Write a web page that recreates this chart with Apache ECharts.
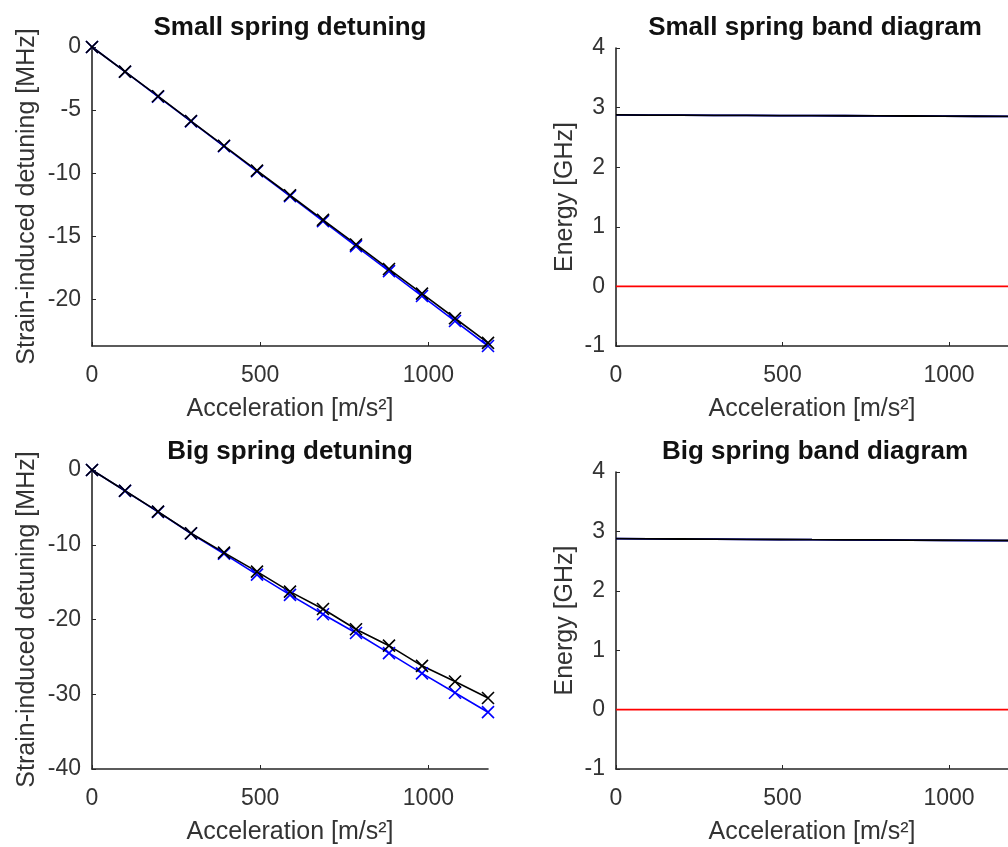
<!DOCTYPE html>
<html>
<head>
<meta charset="utf-8">
<script src="https://cdn.jsdelivr.net/npm/echarts@6/dist/echarts.min.js"></script>
<style>
html,body{margin:0;padding:0;background:#fff;overflow:hidden;}
#chart{width:1008px;height:847px;}
</style>
</head>
<body>
<div id="chart"></div>
<script>
// Data
const accel = [0, 98.1, 196.2, 294.3, 392.4, 490.5, 588.6, 686.7, 784.8, 882.9, 981, 1079.1, 1177.2];
const smallBlue  = [0, -1.96, -3.93, -5.9, -7.87, -9.85, -11.82, -13.8, -15.78, -17.76, -19.74, -21.72, -23.7];
const smallBlack = [0, -1.95, -3.9, -5.87, -7.83, -9.8, -11.75, -13.7, -15.65, -17.6, -19.55, -21.5, -23.45];
const bigBlue  = [0, -2.8, -5.6, -8.5, -11.2, -14.0, -16.7, -19.3, -21.8, -24.5, -27.2, -29.8, -32.4];
const bigBlack = [0, -2.77, -5.57, -8.46, -11.05, -13.6, -16.27, -18.6, -21.3, -23.5, -26.2, -28.3, -30.5];
const smallBandBlue  = [2.877, 2.875, 2.873, 2.871, 2.869, 2.867, 2.865, 2.863, 2.861, 2.859, 2.857, 2.855, 2.853];
const smallBandBlack = [2.877, 2.875, 2.873, 2.871, 2.869, 2.867, 2.865, 2.863, 2.861, 2.859, 2.857, 2.855, 2.853];
const smallBandRed   = [0, 0, 0, 0, 0, 0, 0, 0, 0, 0, 0, 0, 0];
const bigBandBlue  = [2.877, 2.874, 2.871, 2.869, 2.866, 2.863, 2.86, 2.858, 2.855, 2.852, 2.849, 2.847, 2.844];
const bigBandBlack = [2.877, 2.874, 2.872, 2.869, 2.866, 2.864, 2.861, 2.859, 2.856, 2.854, 2.851, 2.849, 2.847];
const bigBandRed   = [0, 0, 0, 0, 0, 0, 0, 0, 0, 0, 0, 0, 0];
const xTicks = [0, 500, 1000];
const smallDetTicks = [0, -5, -10, -15, -20];
const bigDetTicks = [0, -10, -20, -30, -40];
const energyTicks = [-1, 0, 1, 2, 3, 4];
const titles = ['Small spring detuning', 'Big spring detuning', 'Small spring band diagram', 'Big spring band diagram'];
const xName = 'Acceleration [m/s\u00B2]';
const detName = 'Strain-induced detuning [MHz]';
const energyName = 'Energy [GHz]';

const FONT = '"Liberation Sans", Arial, Helvetica, sans-serif';
const AX = '#262626';
const TXT = '#333333';
const TICKF = 23, NAMEF = 25, TITLEF = 26;

function pairs(xs, ys){ return xs.map((x,i)=>[x, ys[i]]); }

const grids = [
  {left: 92, top: 47, width: 396, height: 299},
  {left: 92, top: 470, width: 396, height: 299},
  {left: 616, top: 48, width: 399, height: 298},
  {left: 616, top: 472, width: 399, height: 297}
];

function xAxis(gi){
  return {
    type: 'value', gridIndex: gi, min: 0, max: accel[accel.length-1],
    name: xName, nameLocation: 'middle', nameGap: 51,
    nameTextStyle: {fontSize: NAMEF, color: TXT, fontFamily: FONT},
    axisLine: {show: true, onZero: false, lineStyle: {color: AX, width: 1.6}},
    axisTick: {show: true, inside: true, length: 4, customValues: xTicks, lineStyle: {color: AX}},
    axisLabel: {customValues: xTicks, fontSize: TICKF, color: TXT, fontFamily: FONT, margin: 18, formatter: v => String(v)},
    splitLine: {show: false}
  };
}
function yAxis(gi, min, max, ticks, name, gap){
  return {
    type: 'value', gridIndex: gi, min: min, max: max,
    name: name, nameLocation: 'middle', nameGap: gap,
    nameTextStyle: {fontSize: NAMEF, color: TXT, fontFamily: FONT},
    axisLine: {show: true, onZero: false, lineStyle: {color: AX, width: 1.6}},
    axisTick: {show: true, inside: true, length: 4, customValues: ticks, lineStyle: {color: AX}},
    axisLabel: {customValues: ticks, fontSize: TICKF, color: TXT, fontFamily: FONT, margin: 11, formatter: v => String(v)},
    splitLine: {show: false}
  };
}
const X = 'path://M0,0L10,10M10,0L0,10';
function markSeries(gi, ys, color){
  return {
    type: 'line', xAxisIndex: gi, yAxisIndex: gi, data: pairs(accel, ys),
    symbol: X, symbolSize: 12, showAllSymbol: true,
    lineStyle: {color: color, width: 1.6},
    itemStyle: {color: color, borderColor: color, borderWidth: 1.6},
    animation: false, silent: true
  };
}
function bandSeries(gi, ys, color){
  return {
    type: 'line', xAxisIndex: gi, yAxisIndex: gi, data: pairs(accel, ys),
    showSymbol: false, symbol: 'none',
    lineStyle: {color: color, width: 1.8},
    animation: false, silent: true
  };
}
const titleCenters = [[290, 15], [290, 439], [815, 15], [815, 439]];

const option = {
  backgroundColor: '#fff',
  animation: false,
  title: titles.map((t, i) => ({
    text: t, left: titleCenters[i][0], top: titleCenters[i][1], textAlign: 'center', padding: 0,
    textStyle: {fontSize: TITLEF, fontWeight: 'bold', color: '#111', fontFamily: FONT}
  })),
  grid: grids,
  xAxis: [xAxis(0), xAxis(1), xAxis(2), xAxis(3)],
  yAxis: [
    yAxis(0, smallBlue[smallBlue.length-1], 0, smallDetTicks, detName, 52),
    yAxis(1, -40, 0, bigDetTicks, detName, 52),
    yAxis(2, -1, 4, energyTicks, energyName, 38),
    yAxis(3, -1, 4, energyTicks, energyName, 38)
  ],
  series: [
    markSeries(0, smallBlue, '#0000ff'),
    markSeries(0, smallBlack, '#000000'),
    markSeries(1, bigBlue, '#0000ff'),
    markSeries(1, bigBlack, '#000000'),
    bandSeries(2, smallBandRed, '#ff0000'),
    bandSeries(2, smallBandBlue, '#0000ff'),
    bandSeries(2, smallBandBlack, '#000000'),
    bandSeries(3, bigBandRed, '#ff0000'),
    bandSeries(3, bigBandBlue, '#0000ff'),
    bandSeries(3, bigBandBlack, '#000000')
  ]
};
const chart = echarts.init(document.getElementById('chart'), null, {renderer: 'canvas'});
chart.setOption(option);
</script>
</body>
</html>
